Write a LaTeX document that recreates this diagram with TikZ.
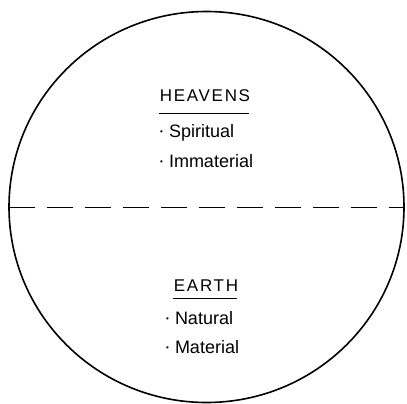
\documentclass[tikz,border=0pt]{standalone}
\usepackage{fontspec}
\setmainfont{Liberation Sans}
\newfontfamily\titlefont[LetterSpace=10]{Liberation Sans}
\usepackage{tikz}
\usepackage{xcolor}
\usetikzlibrary{positioning, calc}
\newcommand{\itembullet}{\raisebox{0.3ex}{\fontsize{8}{8}\selectfont\textbullet}\hspace{6pt}}
\tikzset{
	realm/.style   ={draw=black, line width=1.6pt},
	divider/.style ={draw=black, line width=1pt, dash pattern=on 26pt off 12pt},
	heading/.style ={anchor=base, inner sep=0pt, font=\titlefont\fontsize{17}{20}\selectfont},
	rule/.style    ={draw=black, line width=1pt},
	entry/.style   ={anchor=base west, inner sep=0pt, font=\fontsize{18}{21}\selectfont},
}
\begin{document}
\begin{tikzpicture}[x=1pt, y=-1pt]
	\useasboundingbox (0,0) rectangle (407,404);
	\path[realm] (206.5,207) ellipse (197.5 and 195.5);
	\coordinate (divW) at (9,207);
	\coordinate (divE) at (405,207);
	\draw[divider] (divW) -- (divE);
	% upper half
	\node[heading] (heavens) at (205,101) {HEAVENS};
	\draw[rule] ($(heavens.base west)+(-1,12)$) -- ($(heavens.base east)+(-1,12)$);
	\node[entry] (spiritual) at (160,137) {\itembullet Spiritual};
	\node[entry] (immaterial) at (160,167) {\itembullet Immaterial};
	% lower half
	\node[heading] (earth) at (206,291) {EARTH};
	\draw[rule] ($(earth.base west)+(-1,7)$) -- ($(earth.base east)+(-1,7)$);
	\node[entry] (natural) at (166,324) {\itembullet Natural};
	\node[entry] (material) at (166,353) {\itembullet Material};
\end{tikzpicture}
\end{document}
